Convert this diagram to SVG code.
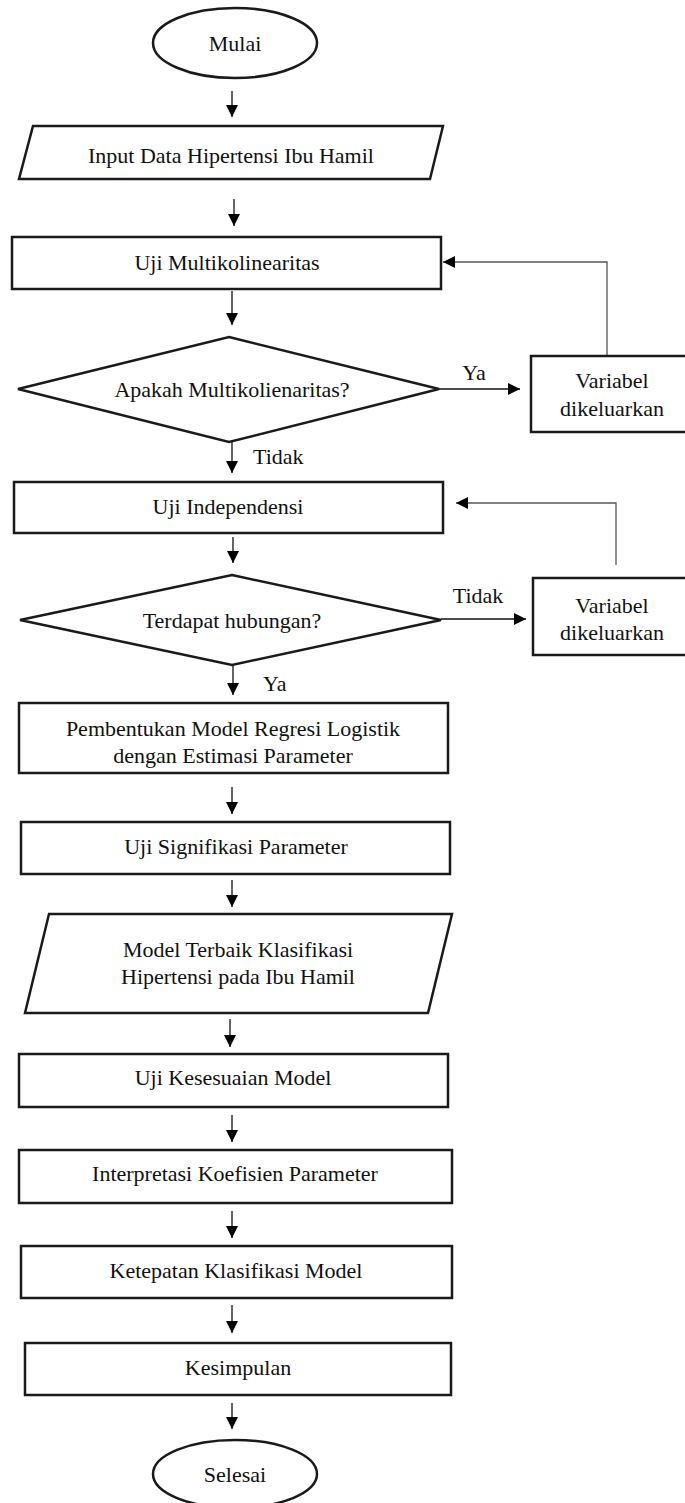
<svg xmlns="http://www.w3.org/2000/svg" width="685" height="1503" viewBox="0 0 685 1503">
<style>
.s{fill:#fff;stroke:#1a1a1a;stroke-width:2.5}
.t{font-family:"Liberation Serif","Times New Roman",serif;font-size:22px;fill:#111;text-anchor:middle;dominant-baseline:central}
.t.l{text-anchor:start}
.c{fill:none;stroke:#111;stroke-width:1.3}
.f{fill:none;stroke:#555;stroke-width:1.3}
</style>
<defs>
<marker id="ah" markerUnits="userSpaceOnUse" markerWidth="12" markerHeight="12" refX="12" refY="6" orient="auto">
<path d="M0,0 L12,6 L0,12 z" fill="#000"/>
</marker>
</defs>
<rect width="685" height="1503" fill="#fff"/>
<g id="connectors">
<line class="c" x1="232" y1="91" x2="232" y2="117" marker-end="url(#ah)"/>
<line class="c" x1="234" y1="199" x2="234" y2="226" marker-end="url(#ah)"/>
<line class="c" x1="232" y1="291" x2="232" y2="325" marker-end="url(#ah)"/>
<line class="c" x1="439" y1="389" x2="520" y2="389" marker-end="url(#ah)"/>
<polyline class="f" points="607,356 607,262 443,262" marker-end="url(#ah)"/>
<line class="c" x1="232" y1="442" x2="232" y2="473" marker-end="url(#ah)"/>
<line class="c" x1="233" y1="537" x2="233" y2="563" marker-end="url(#ah)"/>
<line class="c" x1="441" y1="619" x2="526" y2="619" marker-end="url(#ah)"/>
<polyline class="f" points="616,565 616,503 456,503" marker-end="url(#ah)"/>
<line class="c" x1="233" y1="665" x2="233" y2="695" marker-end="url(#ah)"/>
<line class="c" x1="232" y1="787" x2="232" y2="814" marker-end="url(#ah)"/>
<line class="c" x1="232" y1="880" x2="232" y2="907" marker-end="url(#ah)"/>
<line class="c" x1="230" y1="1019" x2="230" y2="1047" marker-end="url(#ah)"/>
<line class="c" x1="232" y1="1115" x2="232" y2="1142" marker-end="url(#ah)"/>
<line class="c" x1="232" y1="1211" x2="232" y2="1238" marker-end="url(#ah)"/>
<line class="c" x1="232" y1="1305" x2="232" y2="1333" marker-end="url(#ah)"/>
<line class="c" x1="232" y1="1403" x2="232" y2="1429" marker-end="url(#ah)"/>
<text class="t" x="474" y="372">Ya</text>
<text class="t l" x="253" y="456">Tidak</text>
<text class="t" x="478" y="595">Tidak</text>
<text class="t l" x="263" y="683">Ya</text>
</g>
<g id="mulai">
<ellipse class="s" cx="235" cy="43" rx="82" ry="35"/>
<text class="t" x="235" y="43">Mulai</text>
</g>
<g id="input">
<polygon class="s" points="33,126 443,126 430,179 19,179"/>
<text class="t" x="231" y="155">Input Data Hipertensi Ibu Hamil</text>
</g>
<g id="uji-multi">
<rect class="s" x="12" y="237" width="429" height="52"/>
<text class="t" x="227" y="262">Uji Multikolinearitas</text>
</g>
<g id="dec-multi">
<polygon class="s" points="229,337 439,389 229,442 18,389"/>
<text class="t" x="232" y="389">Apakah Multikolienaritas?</text>
</g>
<g id="var1">
<rect class="s" x="531" y="356" width="160" height="76"/>
<text class="t" x="612" y="380">Variabel</text>
<text class="t" x="612" y="408">dikeluarkan</text>
</g>
<g id="uji-indep">
<rect class="s" x="14" y="482" width="429" height="51"/>
<text class="t" x="228" y="506">Uji Independensi</text>
</g>
<g id="dec-hub">
<polygon class="s" points="232,575 441,620 232,665 20,620"/>
<text class="t" x="232" y="620">Terdapat hubungan?</text>
</g>
<g id="var2">
<rect class="s" x="533" y="578" width="160" height="77"/>
<text class="t" x="612" y="605">Variabel</text>
<text class="t" x="612" y="632">dikeluarkan</text>
</g>
<g id="pembentukan">
<rect class="s" x="19" y="703" width="429" height="70"/>
<text class="t" x="233" y="728">Pembentukan Model Regresi Logistik</text>
<text class="t" x="233" y="755">dengan Estimasi Parameter</text>
</g>
<g id="signifikasi">
<rect class="s" x="21" y="822" width="429" height="52"/>
<text class="t" x="236" y="846">Uji Signifikasi Parameter</text>
</g>
<g id="model-terbaik">
<polygon class="s" points="49,914 452,914 428,1013 25,1013"/>
<text class="t" x="238" y="949">Model Terbaik Klasifikasi</text>
<text class="t" x="238" y="976">Hipertensi pada Ibu Hamil</text>
</g>
<g id="kesesuaian">
<rect class="s" x="19" y="1054" width="429" height="53"/>
<text class="t" x="233" y="1077">Uji Kesesuaian Model</text>
</g>
<g id="interpretasi">
<rect class="s" x="19" y="1150" width="433" height="53"/>
<text class="t" x="235" y="1173">Interpretasi Koefisien Parameter</text>
</g>
<g id="ketepatan">
<rect class="s" x="21" y="1246" width="431" height="52"/>
<text class="t" x="236" y="1270">Ketepatan Klasifikasi Model</text>
</g>
<g id="kesimpulan">
<rect class="s" x="25" y="1343" width="426" height="52"/>
<text class="t" x="238" y="1367">Kesimpulan</text>
</g>
<g id="selesai">
<ellipse class="s" cx="235" cy="1474" rx="82" ry="34"/>
<text class="t" x="235" y="1474">Selesai</text>
</g>
</svg>
